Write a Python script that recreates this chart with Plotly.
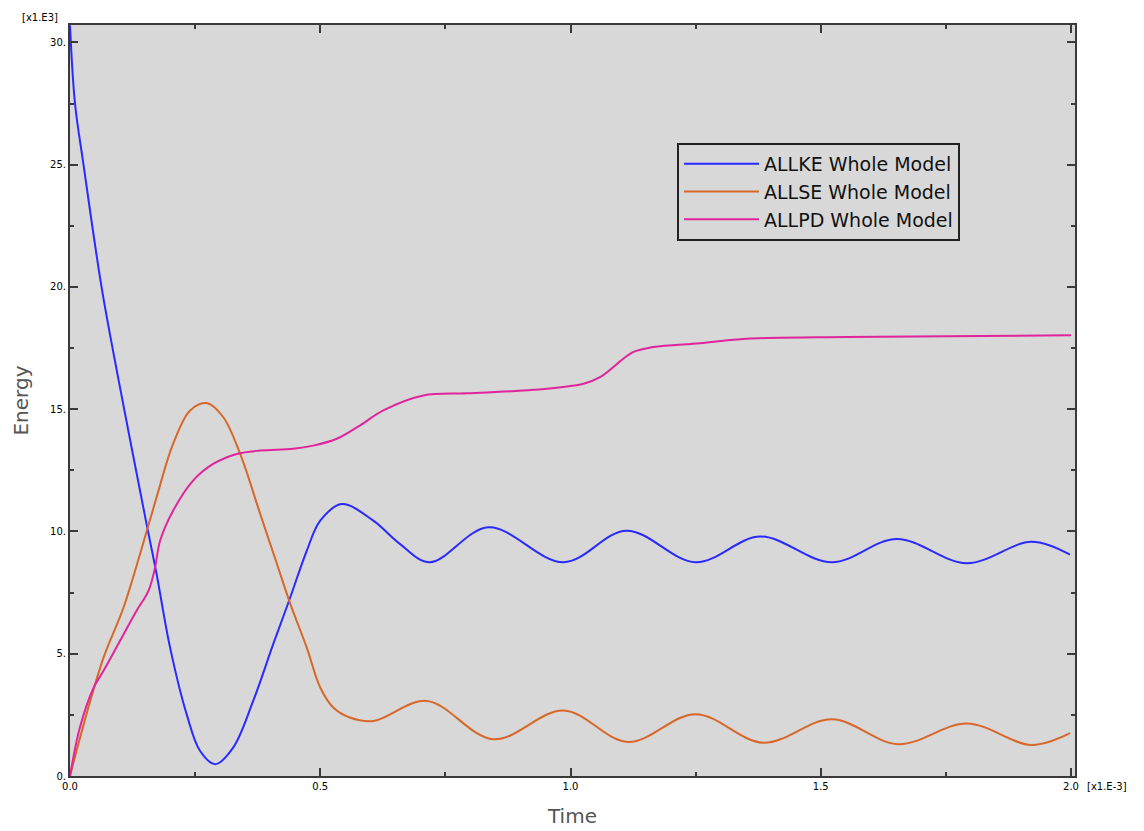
import plotly.graph_objects as go

# Time in units of 1e-3, energy in units of 1e3
allke_t = [0.0, 0.01, 0.027, 0.063, 0.097, 0.153, 0.173, 0.2, 0.233, 0.26, 0.29, 0.326, 0.366, 0.406,
           0.44, 0.473, 0.5, 0.543, 0.606, 0.659, 0.719, 0.836, 0.986, 1.112,
           1.25, 1.379, 1.522, 1.652, 1.792, 1.921, 1.998]
allke_e = [30.7, 27.5, 25.0, 20.0, 16.2, 10.3, 8.26, 5.25, 2.53, 1.02, 0.48, 1.16, 3.07, 5.39,
           7.3, 9.21, 10.44, 11.12, 10.44, 9.49, 8.74, 10.17, 8.74, 10.03,
           8.74, 9.79, 8.74, 9.69, 8.70, 9.58, 9.05]

allse_t = [0.0, 0.033, 0.067, 0.107, 0.14, 0.173, 0.206, 0.24, 0.273, 0.306, 0.34, 0.38, 0.413,
           0.44, 0.473, 0.5, 0.526, 0.559, 0.606, 0.713, 0.846, 0.986,
           1.115, 1.25, 1.385, 1.522, 1.655, 1.792, 1.921, 1.998]
allse_e = [0.0, 2.53, 4.84, 6.89, 9.08, 11.4, 13.58, 14.95, 15.25, 14.68, 13.17, 10.72, 8.7,
           7.05, 5.25, 3.62, 2.8, 2.39, 2.25, 3.07, 1.5, 2.68,
           1.39, 2.53, 1.36, 2.32, 1.30, 2.15, 1.27, 1.75]

allpd_t = [0.0, 0.02, 0.047, 0.067, 0.1, 0.133, 0.157, 0.17, 0.18, 0.206, 0.246, 0.286, 0.333,
           0.38, 0.446, 0.486, 0.533, 0.579, 0.626, 0.706, 0.793, 0.926, 1.026, 1.059, 1.125,
           1.165, 1.259, 1.352, 1.552, 1.752, 2.0]
allpd_e = [0.0, 2.0, 3.6, 4.3, 5.53, 6.76, 7.58, 8.53, 9.62, 10.85, 12.08, 12.76, 13.17,
           13.31, 13.38, 13.51, 13.79, 14.33, 14.95, 15.56, 15.65, 15.79, 16.04, 16.31, 17.33,
           17.54, 17.70, 17.88, 17.95, 17.98, 18.02]

series_names = ["ALLKE Whole Model", "ALLSE Whole Model", "ALLPD Whole Model"]
series_colors = ["#2a2aff", "#d8672a", "#e0249c"]

y_ticks = [0, 5, 10, 15, 20, 25, 30]
y_ticktext = ["0.", "5.", "10.", "15.", "20.", "25.", "30."]
x_ticks = [0.0, 0.5, 1.0, 1.5, 2.0]
x_ticktext = ["0.0", "0.5", "1.0", "1.5", "2.0"]

fig = go.Figure()
for t, e, name, col in zip([allke_t, allse_t, allpd_t], [allke_e, allse_e, allpd_e],
                           series_names, series_colors):
    fig.add_trace(go.Scatter(x=t, y=e, mode="lines", name=name,
                             line=dict(color=col, width=2, shape="spline", smoothing=1.0)))

axis_common = dict(showgrid=False, zeroline=False, showline=True, linecolor="#3a3a3a",
                   linewidth=2, mirror="ticks", ticks="inside", tickcolor="#3a3a3a",
                   ticklen=8, tickwidth=2, automargin=False,
                   tickfont=dict(family="DejaVu Sans", size=10, color="#000000"))

fig.update_xaxes(range=[0, 2.008], tickvals=x_ticks, ticktext=x_ticktext,
                 title=dict(text="Time", font=dict(family="DejaVu Sans", size=20, color="#555555"),
                            standoff=18),
                 minor=dict(ticks="inside", ticklen=4, tickwidth=2, tickcolor="#3a3a3a", dtick=0.25),
                 **axis_common)
fig.update_yaxes(range=[0, 30.71], tickvals=y_ticks, ticktext=y_ticktext,
                 title=dict(text="Energy", font=dict(family="DejaVu Sans", size=20, color="#555555"),
                            standoff=16),
                 minor=dict(ticks="inside", ticklen=4, tickwidth=2, tickcolor="#3a3a3a", dtick=2.5),
                 **axis_common)

fig.add_annotation(text="[x1.E3]", xref="paper", yref="paper", x=-0.01, y=1.0,
                   xanchor="right", yanchor="bottom", showarrow=False,
                   font=dict(family="DejaVu Sans", size=10, color="#000000"))
fig.add_annotation(text="[x1.E-3]", xref="paper", yref="paper", x=1.01, y=0.0,
                   xanchor="left", yanchor="top", yshift=-3, showarrow=False,
                   font=dict(family="DejaVu Sans", size=10, color="#000000"))

fig.update_layout(
    width=1144, height=831,
    margin=dict(l=70, r=69, t=25, b=55, autoexpand=False),
    paper_bgcolor="#ffffff",
    plot_bgcolor="#d8d8d8",
    showlegend=True,
    legend=dict(x=0.604, y=0.843, xanchor="left", yanchor="top",
                bgcolor="#d8d8d8", bordercolor="#222222", borderwidth=2,
                font=dict(family="DejaVu Sans", size=19, color="#111111"),
                itemwidth=75, tracegroupgap=0),
)

fig.write_html("out.html")
